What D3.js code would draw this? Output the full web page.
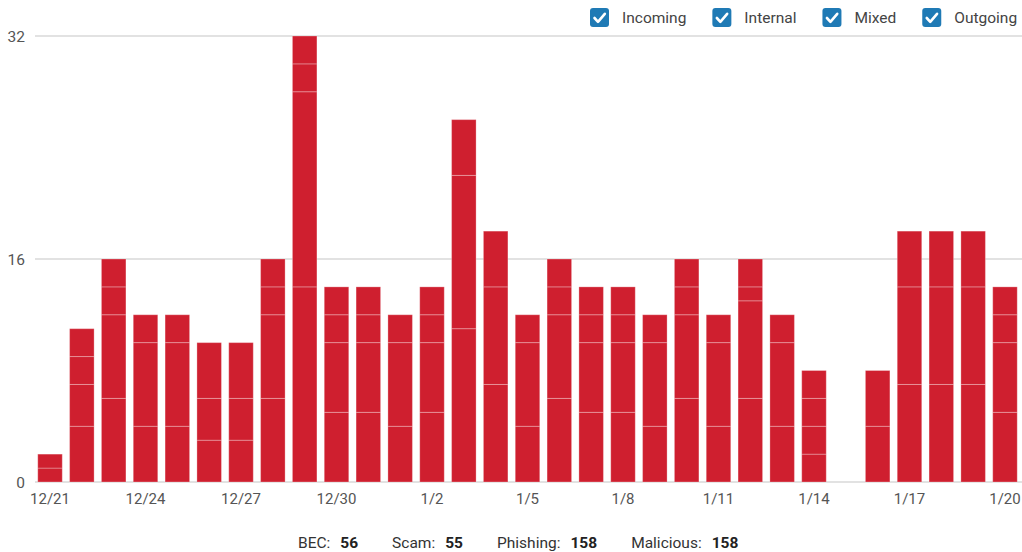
<!DOCTYPE html>
<html><head><meta charset="utf-8">
<script src="https://cdn.jsdelivr.net/npm/d3@7"></script>
<style>html,body{margin:0;padding:0;background:#fff;} svg{display:block;font-family:Roboto, Arial, sans-serif;}</style>
</head><body><svg id="chart" width="1022" height="552"></svg>
<script>
const dates = ["12/21","12/22","12/23","12/24","12/25","12/26","12/27","12/28","12/29","12/30","12/31",
  "1/1","1/2","1/3","1/4","1/5","1/6","1/7","1/8","1/9","1/10","1/11","1/12","1/13","1/14","1/15","1/16","1/17","1/18","1/19","1/20"];
const tickLabels = ["12/21","12/24","12/27","12/30","1/2","1/5","1/8","1/11","1/14","1/17","1/20"];
const seriesNames = ["Incoming","Internal","Mixed","Outgoing"];
const incoming = [1,4,6,4,4,3,3,6,14,5,5,4,5,11,7,4,6,5,5,4,6,4,6,4,2,0,4,7,7,7,5];
const internal = [1,3,6,6,6,3,3,6,14,5,5,6,5,11,7,6,6,5,5,6,6,6,7,6,2,0,4,7,7,7,5];
const mixed    = [0,2,2,2,2,4,4,2,2,2,2,2,2,4,4,2,2,2,2,2,2,2,1,2,2,0,0,4,4,4,2];
const outgoing = [0,2,2,0,0,0,0,2,2,2,2,0,2,0,0,0,2,2,2,0,2,0,2,0,2,0,0,0,0,0,2];
const yTicks = [0,16,32];
const summaryLabels = ["BEC","Scam","Phishing","Malicious"];
const summaryValues = [56,55,158,158];

const svg = d3.select("#chart");
const rows = dates.map((d,i)=>({date:d, Incoming:incoming[i], Internal:internal[i], Mixed:mixed[i], Outgoing:outgoing[i]}));
const stack = d3.stack().keys(seriesNames)(rows);

const x = d3.scaleBand().domain(dates).range([34.1, 1020.9]).paddingInner(0.23).paddingOuter(0.115);
const y = d3.scaleLinear().domain([0,32]).range([482,36]);

// gridlines
svg.append("g").selectAll("line").data(yTicks).join("line")
  .attr("x1",35).attr("x2",1022)
  .attr("y1",d=>y(d)).attr("y2",d=>y(d))
  .attr("stroke","#e2e2e2").attr("stroke-width",2);

// y labels
svg.append("g").selectAll("text").data(yTicks).join("text")
  .attr("x",25).attr("y",d=>y(d)).attr("dy","0.36em")
  .attr("text-anchor","end").attr("font-size",15.5).attr("fill","#555")
  .text(d=>d);

// bars
const layers = svg.append("g").selectAll("g").data(stack).join("g");
layers.selectAll("rect").data(d=>d.filter(s=>s[1]-s[0]>0)).join("rect")
  .attr("x",d=>x(d.data.date))
  .attr("width",x.bandwidth())
  .attr("y",d=>y(d[1]))
  .attr("height",d=>y(d[0])-y(d[1]))
  .attr("fill","#cf1f2f")
  .attr("stroke","rgba(255,255,255,0.28)").attr("stroke-width",1);

// x axis labels
svg.append("g").selectAll("text").data(tickLabels).join("text")
  .attr("x",d=>x(d)+x.bandwidth()/2).attr("y",504)
  .attr("text-anchor","middle").attr("font-size",15).attr("fill","#555")
  .text(d=>d);

// legend
const leg = svg.append("g");
let lx = 590;
seriesNames.forEach(name=>{
  const g = leg.append("g").attr("transform",`translate(${lx},8)`);
  g.append("rect").attr("width",19).attr("height",19).attr("rx",3).attr("fill","#1f7ab5");
  g.append("path").attr("d","M4.5,10 L8,13.8 L14.8,5.8").attr("fill","none")
    .attr("stroke","#fff").attr("stroke-width",2.6).attr("stroke-linecap","round").attr("stroke-linejoin","round");
  const t = g.append("text").attr("x",32).attr("y",9.5).attr("dy","0.36em")
    .attr("font-size",15.5).attr("fill","#444").text(name);
  lx += 32 + t.node().getComputedTextLength() + 26;
});

// summary
const sum = svg.append("g");
let sx = 298;
summaryLabels.forEach((lab,i)=>{
  const t1 = sum.append("text").attr("x",sx).attr("y",548).attr("font-size",15.5).attr("fill","#333").text(lab+":");
  sx += t1.node().getComputedTextLength() + 10;
  const t2 = sum.append("text").attr("x",sx).attr("y",548).attr("font-size",15.5).attr("font-weight","bold").attr("fill","#222").text(summaryValues[i]);
  sx += t2.node().getComputedTextLength() + 34;
});
</script></body></html>
